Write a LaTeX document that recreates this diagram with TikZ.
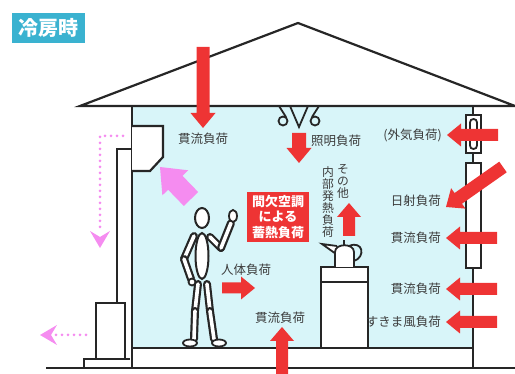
\documentclass[tikz,border=0pt]{standalone}
\usepackage{fontspec}
\setmainfont{Noto Sans CJK JP}
\usetikzlibrary{calc}

\definecolor{roomcyan}{RGB}{216,245,249}
\definecolor{titlecyan}{RGB}{58,178,208}
\definecolor{loadred}{RGB}{238,52,52}
\definecolor{airpink}{RGB}{245,140,240}
\definecolor{txtgray}{RGB}{60,60,60}

\tikzset{
  wall/.style={line width=2.2pt, draw=black!85},
  lbl/.style={text=txtgray, font=\fontsize{12.5}{13}\selectfont, inner sep=0pt},
  vlbl/.style={lbl, align=center, font=\fontsize{11.8}{12}\selectfont, anchor=north},
  airflow/.style={airpink, line width=3pt, line cap=round, dash pattern=on 0pt off 6pt},
}

% fat arrow: fill, tail, tip, shaft half width, head half width, head length
\newcommand{\blockarr}[6]{%
  \path (#2) coordinate (ba-t) (#3) coordinate (ba-h);
  \path ($(ba-h)!#6!(ba-t)$) coordinate (ba-b);
  \fill[#1] ($(ba-t)!#4!90:(ba-h)$) -- ($(ba-b)!#4!-90:(ba-t)$)
    -- ($(ba-b)!#5!-90:(ba-t)$) -- (ba-h) -- ($(ba-b)!#5!90:(ba-t)$)
    -- ($(ba-b)!#4!90:(ba-t)$) -- ($(ba-t)!#4!-90:(ba-h)$) -- cycle;
}
% one limb of the figure
\newcommand{\limb}[2]{%
  \draw[line width=8pt, line cap=round, black!85] (#1) -- (#2);
  \draw[line width=3.6pt, line cap=round, white] (#1) -- (#2);
}

\begin{document}
\begin{tikzpicture}[x=1pt,y=-1pt]
\useasboundingbox (0,0) rectangle (515,374);

\fill[roomcyan] (132,106) rectangle (473,348);

\node[fill=titlecyan, text=white, font=\fontsize{20}{21}\selectfont\bfseries,
  minimum width=73pt, minimum height=30pt, inner sep=0pt] (title) at (48.5,28) {冷房時};

% house
\draw[wall] (80,106) -- (298,23) -- (515,106) -- cycle;
\draw[wall] (132,106) -- (132,368);
\draw[wall] (46,368) -- (515,368);
\draw[wall] (132,348) -- (473,348);
\draw[wall] (473,106) -- (473,368);

% windows
\draw[wall, fill=white] (466,115) rectangle (481,153);
\draw[wall, line width=1.8pt, rounded corners=3.4pt] (470,119) rectangle (477,149);
\draw[wall, fill=white] (466,163) rectangle (481,268);

% air conditioner, pipe and outdoor unit
\draw[wall, fill=white] (132,126) -- (163,126) -- (163,157) -- (150,171) -- (132,171);
\draw[wall] (132,149) -- (117,149) -- (117,303);
\draw[wall, fill=white] (96,303) rectangle (125,359);
\draw[wall] (84,368) -- (84,359) -- (130,359);

% ceiling light
\begin{scope}[wall, line width=1.8pt]
\draw (290,106) -- (299,127) -- (308,106);
\draw (279,106) -- (286,117);
\draw (283,121) circle (4.5);
\draw (319,106) -- (312,117);
\draw (315,121) circle (4.5);
\end{scope}

% table and kettle
\draw[wall, fill=white] (321,267) rectangle (368,348);
\draw[wall] (321,282) -- (368,282);
\draw[wall, line width=1.8pt] (349,246) .. controls (363,240) and (366,257) .. (354,261);
\draw[wall, line width=1.8pt, fill=white] (336,254) -- (322,244) -- (337,246);
\draw[wall, line width=1.8pt, fill=white] (335,267) -- (335,252)
  .. controls (335,243) and (354,243) .. (354,252) -- (354,267);
\draw[wall, line width=1.8pt] (344,245) -- (344,240);

% person
\limb{198,284}{195,311}
\limb{207,284}{210,311}
\limb{195,311}{194,339}
\limb{210,311}{214,339}
\draw[wall, line width=1.8pt, fill=white] (190,343) ellipse (7 and 3.5);
\draw[wall, line width=1.8pt, fill=white] (219,343) ellipse (7 and 3.5);
\draw[wall, line width=2pt, fill=white] (202,256) ellipse (6.5 and 23);
\limb{194,236}{184,259}
\limb{184,259}{191,279}
\draw[wall, line width=1.8pt, fill=white] (192,282) circle (3.5);
\limb{210,237}{221,248}
\limb{221,248}{231,223}
\draw[wall, line width=1.8pt, fill=white] (233,216) ellipse (4 and 6);
\draw[wall, line width=2pt, fill=white] (202,218) ellipse (7 and 10);

% stored heat
\node[fill=loadred, text=white, align=center, font=\fontsize{13}{15.5}\selectfont\bfseries,
  minimum width=62pt, minimum height=50pt, inner sep=0pt] (heatbox) at (278,217) {間欠空調\\による\\蓄熱負荷};

% labels
\node[lbl] (qceil) at (203,139) {貫流負荷};
\node[lbl] (qlight) at (336,141) {照明負荷};
\node[lbl, anchor=east] (qout) at (442,135) {(外気負荷)};
\node[lbl, anchor=east] (qsun) at (441,201) {日射負荷};
\node[lbl, anchor=east] (qwall1) at (441,238) {貫流負荷};
\node[lbl, anchor=east] (qwall2) at (441,289) {貫流負荷};
\node[lbl, anchor=east] (qdraft) at (441,322) {すきま風負荷};
\node[lbl] (qbody) at (246,270) {人体負荷};
\node[lbl] (qfloor) at (280,318) {貫流負荷};
\node[vlbl] (qother) at (343,164) {そ\\の\\他};
\node[vlbl] (qinner) at (328,166) {内\\部\\発\\熱\\負\\荷};

% loads
\blockarr{loadred}{203,47}{203,128}{6.5pt}{12.5pt}{15pt}
\blockarr{loadred}{299,133}{299,163}{7pt}{12.5pt}{15pt}
\blockarr{loadred}{349,236}{349,203}{6pt}{12pt}{14pt}
\blockarr{loadred}{222,288}{255,288}{5.5pt}{11.5pt}{14pt}
\blockarr{loadred}{282,376}{282,327}{6pt}{12pt}{14pt}
\blockarr{loadred}{503,167}{[shift={(5,6)}]qsun.east}{6.5pt}{12.5pt}{15pt}
\foreach \n in {qout,qwall1,qwall2,qdraft}
  \blockarr{loadred}{$(\n.east)+(56,0)$}{[xshift=5pt]\n.east}{6pt}{11.5pt}{14pt};

% air from the room to the unit and out
\blockarr{airpink}{191,199}{160,167}{10pt}{18pt}{22pt}
\coordinate (pipe) at (123,136);
\coordinate (bend) at (100,136);
\draw[airflow] (pipe) -- (bend) -- (100,232);
\fill[airpink] (100,248) -- (90,231) -- (100,237) -- (110,231) -- cycle;
\coordinate (fan) at (86,335);
\draw[airflow] (fan) -- (56,335);
\fill[airpink] (40,335) -- (57,325) -- (51,335) -- (57,345) -- cycle;

\end{tikzpicture}
\end{document}
